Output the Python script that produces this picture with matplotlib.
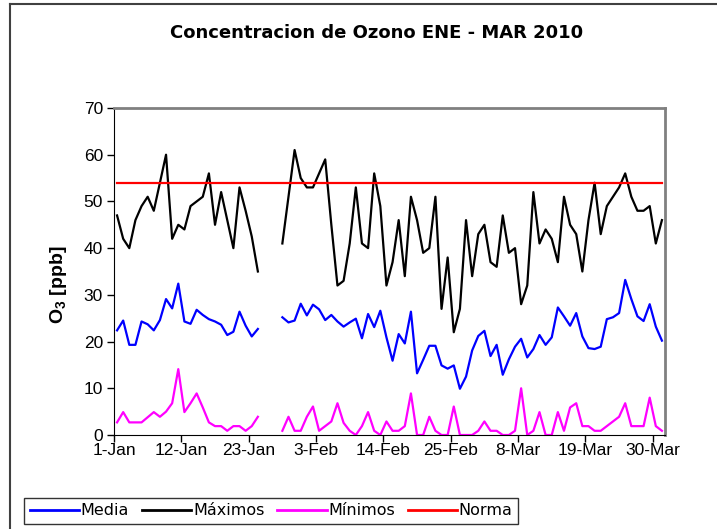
import matplotlib
matplotlib.use('Agg')
import matplotlib.pyplot as plt
import numpy as np
from matplotlib.lines import Line2D

# daily values, 1-Jan .. 31-Mar 2010 (nan = no data)
nan = np.nan
media = [22.4, 24.5, 19.3, 19.3, 24.3, 23.7, 22.4, 24.6, 29.1, 27.1, 32.4, 24.3,
         23.8, 26.8, 25.7, 24.8, 24.3, 23.6, 21.4, 22.1, 26.4, 23.4, 21.1, 22.7,
         nan, nan, nan,
         25.2, 24.1, 24.5, 28.1, 25.6, 27.9, 26.9, 24.6, 25.7, 24.3, 23.2, 24.1,
         24.9, 20.7, 25.9, 23.1, 26.6, 20.9, 15.9, 21.6, 19.6, 26.4, 13.2, 16.1,
         19.1, 19.1, 14.9, 14.2, 14.9, 9.9, 12.5, 18.1, 21.2,
         22.3, 16.9, 19.3, 12.9, 16.2, 18.9, 20.6, 16.6, 18.4, 21.4, 19.3, 20.9,
         27.3, 25.4, 23.4, 26.1, 21.1, 18.6, 18.4, 18.9, 24.8, 25.2, 26.1, 33.2,
         29.1, 25.4, 24.4, 28.0, 23.2, 20.2]
maximos = [47, 42, 40, 46, 49, 51, 48, 54, 60, 42, 45, 44, 49, 50, 51, 56, 45, 52,
           46, 40, 53, 48, 42.5, 35,
           nan, nan, nan,
           41, 51, 61, 55, 53, 53, 56, 59, 45, 32, 33, 41, 53, 41, 40, 56, 49, 32,
           37, 46, 34, 51, 46, 39, 40, 51, 27, 38, 22, 27, 46, 34, 43,
           45, 37, 36, 47, 39, 40, 28, 32, 52, 41, 44, 42, 37, 51, 45, 43, 35, 46,
           54, 43, 49, 51, 53, 56, 51, 48, 48, 49, 41, 46]
minimos = [2.7, 4.9, 2.7, 2.7, 2.7, 3.8, 4.9, 3.9, 5.0, 6.8, 14.1, 4.9, 6.8, 8.9,
           5.9, 2.7, 1.9, 1.9, 0.9, 1.9, 1.9, 0.9, 1.9, 3.9,
           nan, nan, nan,
           0.9, 3.9, 0.9, 0.9, 3.9, 6.1, 0.9, 1.9, 2.9, 6.8, 2.6, 0.9, 0, 1.9, 4.9,
           0.9, 0, 2.9, 0.9, 0.9, 1.9, 8.9, 0, 0, 3.9, 0.9, 0, 0, 6.1, 0, 0, 0, 0.9,
           2.9, 0.9, 0.9, 0, 0, 0.9, 10.0, 0, 0.9, 4.9, 0, 0, 4.9, 0.9, 5.9, 6.8,
           1.9, 1.9, 0.9, 0.9, 1.9, 2.9, 3.9, 6.8, 1.9, 1.9, 1.9, 8.0, 1.9, 0.9]
norma = 54

tick_days = [0, 11, 22, 33, 44, 55, 66, 77, 88]
tick_labels = ['1-Jan', '12-Jan', '23-Jan', '3-Feb', '14-Feb', '25-Feb',
               '8-Mar', '19-Mar', '30-Mar']

plt.rcParams['mathtext.fontset'] = 'custom'
plt.rcParams['mathtext.bf'] = 'Liberation Sans:bold'
plt.rcParams['mathtext.rm'] = 'Liberation Sans'

fig = plt.figure(figsize=(7.17, 5.29), dpi=100)
ax = fig.add_axes([114/717, 1 - 435/529, 551/717, 327/529])

x = np.arange(len(media)) + 0.5
ax.plot(x, media, color='#0000ff', lw=1.6)
ax.plot(x, maximos, color='black', lw=1.6)
ax.plot(x, minimos, color='#ff00ff', lw=1.6)
ax.plot(x, [norma] * len(x), color='#ff0000', lw=1.6)

ax.set_xlim(0, 90)
ax.set_ylim(0, 70)
ax.set_yticks(range(0, 71, 10))
ax.set_xticks(tick_days)
ax.set_xticklabels(tick_labels)
ax.tick_params(direction='out', length=5, width=1, labelsize=12.5, pad=3)
ax.tick_params(axis='x', pad=0.5)
for lab in ax.get_xticklabels() + ax.get_yticklabels():
    lab.set_family('Liberation Sans')
ax.spines['top'].set_color('#808080')
ax.spines['right'].set_color('#808080')
ax.spines['top'].set_linewidth(2)
ax.spines['right'].set_linewidth(2)

ax.set_ylabel(r'$\mathbf{O_3}$ [ppb]', family='Liberation Sans',
              fontweight='bold', fontsize=14)
ax.yaxis.set_label_coords(-0.082, 0.46)

fig.text(377/717, 1 - 33/529, 'Concentracion de Ozono ENE - MAR 2010',
         ha='center', va='center', fontsize=13, fontweight='bold',
         family='DejaVu Sans')

# chart area border (left and top edges visible)
fig.add_artist(Line2D([10/717, 10/717], [0, 1 - 4/529], transform=fig.transFigure,
                      color='#404040', lw=1.5))
fig.add_artist(Line2D([10/717, 1], [1 - 4/529, 1 - 4/529], transform=fig.transFigure,
                      color='#404040', lw=1.5))

handles = [Line2D([], [], color=c, lw=2) for c in ['#0000ff', 'black', '#ff00ff', '#ff0000']]
leg = fig.legend(handles, ['Media', 'Máximos', 'Mínimos', 'Norma'], ncol=4,
                 loc='lower left', bbox_to_anchor=(24/717, 1 - 524/529),
                 borderaxespad=0, frameon=True, fancybox=False, edgecolor='black',
                 handlelength=3.1, handletextpad=0.1, columnspacing=0.8,
                 borderpad=0.35, prop={'family': 'DejaVu Sans', 'size': 11.5})
leg.get_frame().set_linewidth(1)

fig.savefig('out.png', dpi=100)
